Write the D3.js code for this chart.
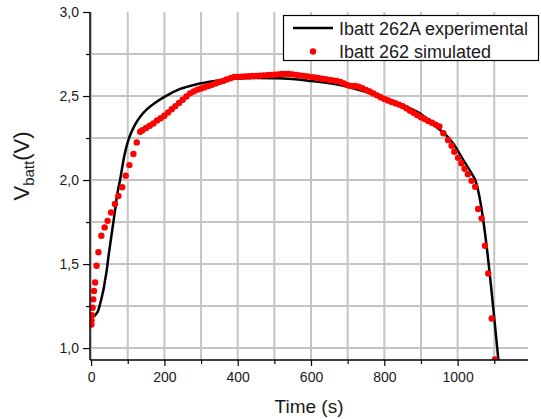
<!DOCTYPE html>
<html>
<head>
<meta charset="utf-8">
<script src="https://cdn.jsdelivr.net/npm/d3@7"></script>
<style>
  html, body { margin: 0; padding: 0; background: #fff; }
  svg { display: block; font-family: "Liberation Sans", Arial, sans-serif; }
</style>
</head>
<body>
<svg id="chart" width="541" height="419"></svg>
<script>
// Experimental battery voltage, time (s) and voltage (V)
const expTime = [0, 5.5, 13.6, 19.9, 24.5, 29.2, 34.1, 38.2, 42.8, 47.2, 51.8, 56.5, 60.8, 65.5, 70.1, 74.5, 79.1, 84.5, 90, 95.5, 101.7, 111, 120, 135, 152, 175, 200, 243, 288, 333, 387, 450, 506, 597, 679, 761, 806, 850, 897, 947, 956, 988, 1015.5, 1038, 1048, 1112];
const expVolt = [1.19, 1.185, 1.202, 1.226, 1.262, 1.304, 1.351, 1.405, 1.464, 1.542, 1.613, 1.685, 1.75, 1.821, 1.899, 1.952, 2.0, 2.071, 2.137, 2.19, 2.238, 2.29, 2.33, 2.38, 2.42, 2.46, 2.495, 2.542, 2.57, 2.588, 2.603, 2.607, 2.605, 2.59, 2.565, 2.516, 2.486, 2.447, 2.397, 2.307, 2.292, 2.218, 2.119, 2.04, 2.0, 0.91];

// Simulated battery voltage samples
const simTime = [1, 1, 2, 4, 6, 8, 11, 15, 20, 28, 37, 45, 54.5, 65, 74.5, 85, 94.5, 104.5, 115.5, 124.5, 134,
  140, 150, 160, 170, 180, 190, 200, 210, 220, 230, 240, 250, 260, 270, 280, 290, 300, 310, 320, 330, 340, 350,
  360, 370, 380, 390, 400, 410, 420, 430, 440, 450, 460, 470, 480, 490, 500, 510, 520, 530, 540, 550, 560, 570,
  580, 590, 600, 610, 620, 630, 640, 650, 660, 670, 680, 690, 700, 710, 720, 730, 740, 750, 760, 770, 780, 790,
  800, 810, 820, 830, 840, 850, 860, 870, 880, 890, 900, 910, 920, 930, 940, 950,
  961, 974, 983.5, 991, 1001, 1010, 1019, 1028, 1038, 1048, 1056, 1065.5, 1074.5, 1083.5, 1093, 1102];
const simVolt = [1.14, 1.165, 1.195, 1.24, 1.29, 1.34, 1.39, 1.49, 1.57, 1.668, 1.718, 1.757, 1.807, 1.857, 1.905, 1.957, 2.026, 2.089, 2.155, 2.224, 2.287,
  2.296, 2.31, 2.323, 2.337, 2.355, 2.368, 2.383, 2.402, 2.421, 2.44, 2.459, 2.478, 2.497, 2.516, 2.527, 2.538, 2.545, 2.552, 2.559, 2.567, 2.575, 2.583,
  2.59, 2.598, 2.606, 2.613, 2.614, 2.615, 2.617, 2.618, 2.619, 2.62, 2.621, 2.623, 2.624, 2.625, 2.627, 2.629, 2.631, 2.632, 2.631, 2.629, 2.626, 2.623,
  2.62, 2.617, 2.614, 2.61, 2.607, 2.603, 2.6, 2.596, 2.593, 2.589, 2.584, 2.575, 2.565, 2.56, 2.56, 2.555, 2.546, 2.536, 2.527, 2.515, 2.504, 2.493,
  2.482, 2.473, 2.465, 2.457, 2.449, 2.44, 2.427, 2.413, 2.4, 2.386, 2.374, 2.363, 2.352, 2.341, 2.33, 2.319,
  2.278, 2.238, 2.204, 2.168, 2.132, 2.1, 2.067, 2.035, 1.995, 1.96, 1.828, 1.772, 1.609, 1.444, 1.176, 0.933];

const xMajorTicks = [0, 200, 400, 600, 800, 1000];
const xMinorTicks = [100, 300, 500, 700, 900, 1100];
const yMajorTicks = [1.0, 1.5, 2.0, 2.5, 3.0];
const yMinorTicks = [1.25, 1.75, 2.25, 2.75];
const legendLabels = ["Ibatt 262A experimental", "Ibatt 262 simulated"];

const svg = d3.select("#chart");
const plotLeft = 90, plotRight = 528, plotTop = 12, plotBottom = 360;

const x = d3.scaleLinear().domain([-3, 1192]).range([plotLeft, plotRight]);
const y = d3.scaleLinear().domain([0.929, 3.0]).range([plotBottom, plotTop]);

svg.append("defs").append("clipPath").attr("id", "plotClip")
  .append("rect").attr("x", plotLeft).attr("y", plotTop)
  .attr("width", plotRight - plotLeft).attr("height", plotBottom - plotTop);

// Grid
const grid = svg.append("g").attr("stroke", "#c4c4c4").attr("stroke-width", 2);
[...xMajorTicks, ...xMinorTicks].forEach(t => {
  grid.append("line").attr("x1", x(t)).attr("x2", x(t)).attr("y1", plotTop).attr("y2", plotBottom);
});
[...yMajorTicks, ...yMinorTicks].filter(t => t < 3).forEach(t => {
  grid.append("line").attr("x1", plotLeft).attr("x2", plotRight).attr("y1", y(t)).attr("y2", y(t));
});

// Data
const plot = svg.append("g").attr("clip-path", "url(#plotClip)");
const line = d3.line().x(d => x(d[0])).y(d => y(d[1])).curve(d3.curveMonotoneX);
plot.append("path")
  .datum(expTime.map((t, i) => [t, expVolt[i]]))
  .attr("d", line)
  .attr("fill", "none").attr("stroke", "#000").attr("stroke-width", 2.5)
  .attr("stroke-linejoin", "round");

plot.selectAll("circle.sim")
  .data(simTime.map((t, i) => [t, simVolt[i]]))
  .join("circle").attr("class", "sim")
  .attr("cx", d => x(d[0])).attr("cy", d => y(d[1])).attr("r", 3.2)
  .attr("fill", "#ff0000");

// Axes
const xAxis = d3.axisBottom(x).tickValues(xMajorTicks).tickSize(6).tickPadding(6).tickFormat(d3.format("d"));
const xMinor = d3.axisBottom(x).tickValues(xMinorTicks).tickSize(4).tickFormat("");
const yAxis = d3.axisLeft(y).tickValues(yMajorTicks).tickSize(7).tickPadding(4)
  .tickFormat(d => d.toFixed(1).replace(".", ","));
const yMinor = d3.axisLeft(y).tickValues(yMinorTicks).tickSize(4).tickFormat("");

function styleAxis(g) {
  g.select(".domain").attr("stroke", "#000").attr("stroke-width", 1.5);
  g.selectAll(".tick line").attr("stroke", "#000").attr("stroke-width", 1.2);
  g.selectAll(".tick text").attr("fill", "#1a1a1a").style("font-size", "14px")
    .style("font-family", "'Liberation Sans', Arial, sans-serif");
}

svg.append("g").attr("transform", `translate(0,${plotBottom})`).call(xMinor).call(styleAxis).select(".domain").remove();
svg.append("g").attr("transform", `translate(0,${plotBottom})`).call(xAxis).call(styleAxis)
  .select(".domain").attr("d", `M${plotLeft},0H${plotRight}`);
svg.append("g").attr("transform", `translate(${plotLeft},0)`).call(yMinor).call(styleAxis).select(".domain").remove();
svg.append("g").attr("transform", `translate(${plotLeft},0)`).call(yAxis).call(styleAxis)
  .select(".domain").attr("d", `M0,${plotTop}V${plotBottom}`);

// Axis titles
svg.append("text").attr("x", 309).attr("y", 413).attr("text-anchor", "middle")
  .style("font-size", "19px").attr("fill", "#1a1a1a").text("Time (s)");

const yTitle = svg.append("text").attr("transform", "translate(29,166) rotate(-90)")
  .attr("text-anchor", "middle").style("font-size", "22px").attr("fill", "#1a1a1a");
yTitle.append("tspan").text("V");
yTitle.append("tspan").attr("dy", 5).style("font-size", "15px").text("batt");
yTitle.append("tspan").attr("dy", -5).text("(V)");

// Legend
const legend = svg.append("g");
legend.append("rect").attr("x", 283.5).attr("y", 15.5).attr("width", 255).attr("height", 45)
  .attr("fill", "#fff").attr("stroke", "#000").attr("stroke-width", 1.2);
legend.append("line").attr("x1", 293).attr("x2", 333).attr("y1", 28).attr("y2", 28)
  .attr("stroke", "#000").attr("stroke-width", 2.5);
legend.append("circle").attr("cx", 313).attr("cy", 51.5).attr("r", 3.2).attr("fill", "#ff0000");
legend.selectAll("text.lg").data(legendLabels).join("text").attr("class", "lg")
  .attr("x", 339).attr("y", (d, i) => 34.5 + i * 23)
  .style("font-size", "18px").attr("fill", "#1a1a1a").text(d => d);
</script>
</body>
</html>
